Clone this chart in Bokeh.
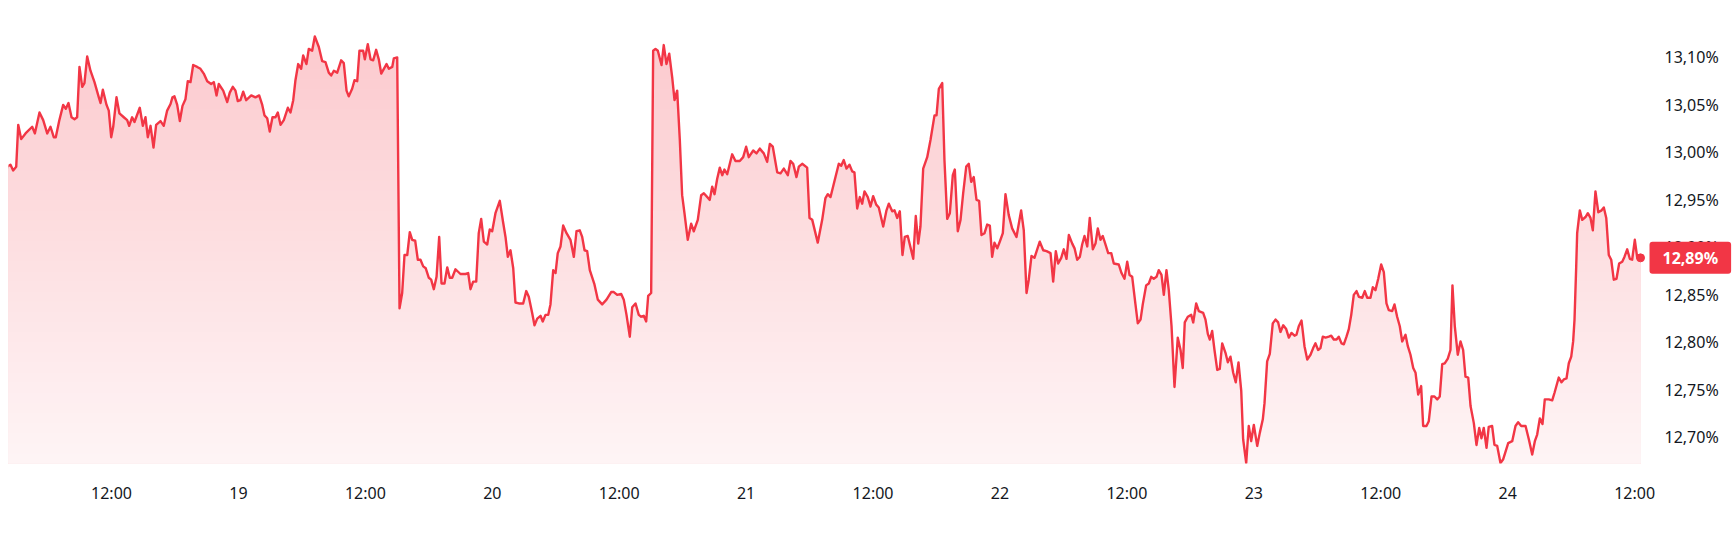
import numpy as np
from bokeh.plotting import figure
from bokeh.models import FixedTicker, CustomJSTickFormatter, Label, Range1d
from bokeh.embed import file_html
from bokeh.resources import INLINE

# time in hours since the 18th, 00:00
hours = [
    1.98, 2.14, 2.45, 2.70, 2.99, 3.18, 3.46, 3.87, 4.50, 4.75,
    5.19, 5.54, 5.92, 6.23, 6.54, 6.73, 7.05, 7.43, 7.68, 7.93,
    8.22, 8.50, 8.75, 8.97, 9.23, 9.44, 9.70, 10.01, 10.39, 10.80,
    10.96, 11.18, 11.53, 11.74, 11.97, 12.16, 12.47, 12.75, 13.16, 13.48,
    13.67, 13.95, 14.17, 14.67, 14.96, 15.21, 15.43, 15.69, 15.97, 16.22,
    16.63, 16.94, 17.26, 17.58, 17.76, 17.95, 18.21, 18.46, 18.71, 18.99,
    19.21, 19.47, 19.72, 20.10, 20.41, 20.72, 21.05, 21.42, 21.67, 21.93,
    22.14, 22.56, 22.94, 23.18, 23.47, 23.72, 23.94, 24.19, 24.45, 24.73,
    25.21, 25.61, 25.96, 26.25, 26.46, 26.72, 26.96, 27.22, 27.50, 27.72,
    27.98, 28.29, 28.67, 28.92, 29.18, 29.39, 29.65, 29.93, 30.12, 30.43,
    30.65, 30.97, 31.22, 31.60, 31.92, 32.23, 32.54, 32.77, 33.02, 33.34,
    33.71, 33.96, 34.22, 34.43, 34.75, 34.97, 35.23, 35.44, 35.79, 35.95,
    36.23, 36.49, 36.74, 37.02, 37.27, 37.50, 38.00, 38.22, 38.54, 38.69,
    39.01, 39.23, 39.48, 39.70, 39.96, 40.20, 40.43, 40.71, 40.96, 41.21,
    41.47, 41.71, 42.00, 42.22, 42.47, 42.73, 42.98, 43.20, 43.48, 43.74,
    43.98, 44.21, 44.52, 44.99, 45.47, 45.72, 45.94, 46.19, 46.48, 46.72,
    46.95, 47.20, 47.52, 47.76, 47.99, 48.30, 48.71, 49.03, 49.25, 49.47,
    49.72, 49.98, 50.19, 50.51, 50.92, 51.21, 51.45, 51.77, 51.99, 52.25,
    52.56, 52.77, 53.03, 53.29, 53.50, 53.76, 53.98, 54.19, 54.45, 54.70,
    55.02, 55.39, 55.71, 55.96, 56.27, 56.50, 56.72, 56.97, 57.22, 57.66,
    57.98, 58.39, 58.80, 59.24, 59.49, 59.81, 60.19, 60.43, 60.69, 61.00,
    61.23, 61.54, 61.85, 62.08, 62.32, 62.55, 62.74, 63.02, 63.21, 63.43,
    63.65, 64.00, 64.21, 64.47, 64.73, 65.01, 65.23, 65.48, 65.73, 65.95,
    66.17, 66.48, 66.80, 67.05, 67.43, 67.75, 68.00, 68.56, 68.79, 69.01,
    69.26, 69.51, 69.74, 69.95, 70.21, 70.68, 70.99, 71.40, 71.72, 72.00,
    72.25, 72.67, 72.98, 73.29, 73.67, 73.99, 74.24, 74.52, 74.94, 75.25,
    75.56, 75.94, 76.19, 76.45, 76.76, 76.98, 77.30, 77.77, 77.99, 78.25,
    78.77, 79.19, 79.50, 79.72, 79.98, 80.29, 80.76, 80.99, 81.23, 81.49,
    81.77, 82.03, 82.24, 82.50, 82.75, 82.97, 83.19, 83.50, 83.76, 84.01,
    84.30, 84.54, 84.96, 85.27, 85.49, 85.81, 86.03, 86.28, 86.53, 86.78,
    87.00, 87.28, 87.80, 88.04, 88.27, 88.48, 88.74, 89.12, 89.43, 89.81,
    90.00, 90.22, 90.54, 90.75, 91.01, 91.26, 91.54, 91.73, 92.01, 92.27,
    92.52, 92.81, 93.05, 93.28, 93.52, 93.78, 94.03, 94.25, 94.54, 94.79,
    95.04, 95.26, 95.48, 95.74, 95.98, 96.27, 96.52, 96.83, 97.15, 97.56,
    98.00, 98.25, 98.51, 98.72, 98.98, 99.26, 99.76, 100.09, 100.40, 100.78,
    101.03, 101.28, 101.50, 101.79, 102.03, 102.29, 102.51, 102.83, 103.05, 103.30,
    103.55, 103.77, 103.99, 104.25, 104.49, 104.78, 105.03, 105.25, 105.50, 105.72,
    105.98, 106.23, 106.52, 106.76, 107.23, 107.49, 107.77, 108.03, 108.25, 108.50,
    108.81, 109.03, 109.29, 109.50, 109.82, 110.07, 110.30, 110.54, 110.80, 111.01,
    111.27, 111.49, 111.74, 111.96, 112.22, 112.50, 112.81, 113.07, 113.28, 113.47,
    113.76, 114.08, 114.27, 114.55, 114.80, 115.21, 115.43, 115.65, 115.84, 116.06,
    116.28, 116.54, 116.78, 117.01, 117.32, 117.54, 117.79, 118.05, 118.29, 118.55,
    118.81, 118.99, 119.28, 119.52, 119.75, 120.00, 120.32, 120.57, 120.85, 121.01,
    121.26, 121.51, 121.79, 122.05, 122.30, 122.52, 122.78, 123.06, 123.31, 123.56,
    123.85, 124.03, 124.25, 124.51, 124.79, 125.05, 125.36, 125.61, 125.83, 126.08,
    126.30, 126.52, 126.78, 127.09, 127.32, 127.56, 127.82, 128.03, 128.29, 128.51,
    128.76, 128.98, 129.21, 129.45, 129.71, 129.93, 130.25, 130.49, 130.72, 131.03,
    131.25, 131.50, 131.76, 132.04, 132.29, 132.54, 132.76, 133.08, 133.30, 133.55,
    133.80, 134.03, 134.34, 134.56, 134.81, 135.07, 135.29, 135.54, 135.82, 136.01,
    136.32, 136.54, 136.80, 137.08, 137.34, 137.58, 137.81, 138.05, 138.34, 138.59,
    138.78, 139.00, 139.28, 139.54, 139.79, 140.01, 140.27, 140.49, 140.80, 141.05,
    141.31, 141.52, 141.74, 142.00, 142.21, 142.53, 142.75, 143.01, 143.32, 143.58,
    144.05, 144.43, 144.74, 144.99, 145.28, 145.69, 146.00, 146.32, 146.57, 146.79,
    147.04, 147.29, 147.51, 147.89, 148.21, 148.43, 148.83, 149.09, 149.31, 149.56,
    149.78, 150.01, 150.19, 150.32, 150.48, 150.57, 150.82, 151.05, 151.36, 151.58,
    151.83, 152.05, 152.30, 152.57, 152.88, 153.09, 153.32, 153.56, 153.79, 154.03,
    154.29, 154.54, 154.83, 155.04, 155.30, 155.55, 155.77, 156.02, 156.25, 156.56,
]

# rate in percent
rate_pct = [
    12.976, 12.985, 12.987, 12.981, 12.985, 13.029, 13.014, 13.020, 13.027, 13.020,
    13.042, 13.034, 13.020, 13.027, 13.016, 13.016, 13.033, 13.050, 13.046, 13.052,
    13.037, 13.035, 13.037, 13.090, 13.069, 13.073, 13.101, 13.086, 13.074, 13.058,
    13.052, 13.066, 13.050, 13.044, 13.016, 13.027, 13.058, 13.041, 13.037, 13.034,
    13.028, 13.037, 13.032, 13.047, 13.028, 13.037, 13.016, 13.028, 13.005, 13.029,
    13.033, 13.028, 13.044, 13.051, 13.058, 13.059, 13.050, 13.033, 13.049, 13.056,
    13.075, 13.074, 13.092, 13.090, 13.088, 13.083, 13.075, 13.072, 13.074, 13.060,
    13.072, 13.065, 13.053, 13.063, 13.069, 13.065, 13.054, 13.055, 13.064, 13.055,
    13.060, 13.058, 13.060, 13.050, 13.039, 13.036, 13.022, 13.037, 13.037, 13.042,
    13.029, 13.034, 13.047, 13.042, 13.055, 13.076, 13.093, 13.088, 13.102, 13.093,
    13.109, 13.107, 13.122, 13.111, 13.096, 13.095, 13.084, 13.081, 13.086, 13.084,
    13.097, 13.094, 13.065, 13.059, 13.067, 13.076, 13.075, 13.107, 13.107, 13.098,
    13.114, 13.098, 13.097, 13.108, 13.098, 13.083, 13.093, 13.088, 13.090, 13.099,
    13.100, 12.836, 12.852, 12.892, 12.892, 12.916, 12.908, 12.907, 12.887, 12.887,
    12.880, 12.878, 12.868, 12.866, 12.856, 12.869, 12.911, 12.862, 12.862, 12.879,
    12.868, 12.868, 12.877, 12.872, 12.872, 12.873, 12.856, 12.864, 12.864, 12.915,
    12.930, 12.906, 12.903, 12.919, 12.917, 12.936, 12.949, 12.926, 12.911, 12.890,
    12.897, 12.878, 12.842, 12.841, 12.841, 12.854, 12.848, 12.831, 12.818, 12.825,
    12.828, 12.822, 12.829, 12.829, 12.840, 12.876, 12.873, 12.894, 12.901, 12.923,
    12.915, 12.908, 12.890, 12.917, 12.918, 12.911, 12.897, 12.896, 12.876, 12.861,
    12.845, 12.840, 12.845, 12.853, 12.853, 12.850, 12.851, 12.845, 12.829, 12.806,
    12.837, 12.841, 12.829, 12.827, 12.828, 12.822, 12.849, 12.852, 13.107, 13.109,
    13.107, 13.092, 13.113, 13.093, 13.104, 13.079, 13.055, 13.065, 13.013, 12.955,
    12.936, 12.908, 12.925, 12.917, 12.929, 12.955, 12.957, 12.950, 12.964, 12.956,
    12.972, 12.984, 12.976, 12.982, 12.977, 12.998, 12.991, 12.991, 12.995, 13.006,
    12.995, 13.002, 12.999, 13.004, 12.999, 12.990, 13.009, 13.006, 12.979, 12.978,
    12.983, 12.976, 12.991, 12.988, 12.974, 12.985, 12.988, 12.984, 12.931, 12.929,
    12.905, 12.929, 12.952, 12.956, 12.953, 12.967, 12.988, 12.986, 12.992, 12.983,
    12.987, 12.980, 12.979, 12.941, 12.953, 12.946, 12.959, 12.953, 12.943, 12.954,
    12.945, 12.942, 12.922, 12.939, 12.946, 12.938, 12.939, 12.931, 12.938, 12.892,
    12.911, 12.912, 12.888, 12.933, 12.904, 12.922, 12.983, 12.995, 13.013, 13.039,
    13.039, 13.067, 13.073, 12.992, 12.930, 12.936, 12.976, 12.982, 12.917, 12.929,
    12.957, 12.985, 12.988, 12.969, 12.974, 12.950, 12.949, 12.913, 12.915, 12.924,
    12.923, 12.890, 12.905, 12.899, 12.906, 12.915, 12.956, 12.934, 12.920, 12.911,
    12.939, 12.918, 12.852, 12.866, 12.891, 12.889, 12.906, 12.897, 12.896, 12.894,
    12.864, 12.896, 12.883, 12.889, 12.898, 12.888, 12.913, 12.904, 12.899, 12.887,
    12.890, 12.903, 12.912, 12.901, 12.931, 12.898, 12.904, 12.920, 12.908, 12.912,
    12.903, 12.894, 12.894, 12.883, 12.882, 12.873, 12.867, 12.885, 12.871, 12.869,
    12.840, 12.820, 12.824, 12.840, 12.860, 12.862, 12.869, 12.867, 12.869, 12.876,
    12.871, 12.850, 12.876, 12.855, 12.817, 12.753, 12.805, 12.792, 12.773, 12.821,
    12.827, 12.829, 12.821, 12.841, 12.833, 12.831, 12.824, 12.809, 12.803, 12.812,
    12.792, 12.771, 12.772, 12.799, 12.789, 12.779, 12.785, 12.768, 12.758, 12.779,
    12.749, 12.698, 12.673, 12.712, 12.696, 12.713, 12.691, 12.705, 12.719, 12.736,
    12.780, 12.788, 12.820, 12.824, 12.821, 12.811, 12.818, 12.814, 12.805, 12.810,
    12.807, 12.808, 12.817, 12.823, 12.796, 12.782, 12.787, 12.794, 12.799, 12.792,
    12.794, 12.806, 12.805, 12.806, 12.807, 12.803, 12.803, 12.806, 12.799, 12.798,
    12.806, 12.814, 12.829, 12.850, 12.854, 12.848, 12.847, 12.854, 12.847, 12.847,
    12.858, 12.855, 12.867, 12.882, 12.874, 12.841, 12.834, 12.833, 12.840, 12.827,
    12.817, 12.801, 12.808, 12.796, 12.787, 12.773, 12.768, 12.745, 12.754, 12.712,
    12.712, 12.717, 12.743, 12.743, 12.740, 12.743, 12.777, 12.778, 12.783, 12.792,
    12.860, 12.817, 12.787, 12.801, 12.792, 12.764, 12.763, 12.733, 12.715, 12.692,
    12.710, 12.699, 12.710, 12.689, 12.711, 12.712, 12.692, 12.691, 12.673, 12.677,
    12.694, 12.696, 12.712, 12.716, 12.712, 12.712, 12.698, 12.682, 12.696, 12.703,
    12.720, 12.714, 12.740, 12.740, 12.739, 12.747, 12.763, 12.758, 12.761, 12.762,
    12.778, 12.785, 12.801, 12.824, 12.880, 12.915, 12.939, 12.929, 12.932, 12.936,
    12.931, 12.918, 12.959, 12.937, 12.939, 12.942, 12.931, 12.892, 12.887, 12.866,
    12.867, 12.883, 12.885, 12.890, 12.898, 12.888, 12.887, 12.908, 12.889, 12.889,
]

x_tick_hours = [12, 24, 36, 48, 60, 72, 84, 96, 108, 120, 132, 144, 156]
x_tick_labels = ["12:00", "19", "12:00", "20", "12:00", "21", "12:00",
                 "22", "12:00", "23", "12:00", "24", "12:00"]
y_tick_values = [12.70, 12.75, 12.80, 12.85, 12.90, 12.95, 13.00, 13.05, 13.10]
y_tick_labels = ["12,70%", "12,75%", "12,80%", "12,85%", "12,90%",
                 "12,95%", "13,00%", "13,05%", "13,10%"]

n = min(len(hours), len(rate_pct))
h = np.array(hours[:n], dtype=float)
v = np.array(rate_pct[:n], dtype=float)

X_LO, X_HI = 2.26, 157.22
Y_LO, Y_HI = 12.6725, 13.1515
RED = "#F23645"
FONT = "Noto Sans"

p = figure(width=1733, height=538,
           x_range=Range1d(X_LO, X_HI), y_range=Range1d(Y_LO, Y_HI),
           y_axis_location="right",
           output_backend="svg", toolbar_location=None,
           min_border_left=8, min_border_right=86,
           min_border_top=8, min_border_bottom=74)
p.outline_line_color = None
p.grid.visible = False
p.background_fill_color = "white"
p.border_fill_color = "white"

# gradient area fill built from stacked bands
N = 45
edges = np.linspace(Y_LO, Y_HI, N + 1)
rgb = (242, 54, 69)
a_top, a_bot = 0.28, 0.05
for k in range(N - 1, -1, -1):
    mid = 0.5 * (edges[k] + edges[k + 1])
    t = (mid - Y_LO) / (Y_HI - Y_LO)
    a = a_bot + (a_top - a_bot) * t
    col = "#%02x%02x%02x" % tuple(int(round(255 - a * (255 - c))) for c in rgb)
    p.varea(x=h, y1=Y_LO, y2=np.minimum(v, edges[k + 1]), fill_color=col, fill_alpha=1.0)

p.line(h, v, line_color=RED, line_width=2.4, line_join="round")
p.scatter([h[-1]], [v[-1]], size=8, color=RED)

xfmt = CustomJSTickFormatter(args=dict(vals=x_tick_hours, labs=x_tick_labels), code="""
let best = 0, d = 1e9;
for (let i = 0; i < vals.length; i++) { const e = Math.abs(vals[i] - tick); if (e < d) { d = e; best = i; } }
return labs[best];
""")
yfmt = CustomJSTickFormatter(args=dict(vals=y_tick_values, labs=y_tick_labels), code="""
let best = 0, d = 1e9;
for (let i = 0; i < vals.length; i++) { const e = Math.abs(vals[i] - tick); if (e < d) { d = e; best = i; } }
return labs[best];
""")

xa = p.xaxis[0]
xa.ticker = FixedTicker(ticks=x_tick_hours)
xa.formatter = xfmt
xa.major_label_standoff = 18
ya = p.yaxis[0]
ya.ticker = FixedTicker(ticks=y_tick_values)
ya.formatter = yfmt
ya.major_label_standoff = 17

for ax in (xa, ya):
    ax.axis_line_color = None
    ax.major_tick_line_color = None
    ax.minor_tick_line_color = None
    ax.major_tick_out = 0
    ax.major_tick_in = 0
    ax.minor_tick_out = 0
    ax.minor_tick_in = 0
    ax.major_label_text_font = FONT
    ax.major_label_text_font_size = "16px"
    ax.major_label_text_color = "#131722"

# last value price tag (placed in a side panel so it is not clipped to the frame)
last_text = ("%.2f" % v[-1]).replace(".", ",") + "%"
lab = Label(x=157.41, y=v[-1], x_units="data", y_units="data", text=last_text,
            text_color="white", text_font=FONT, text_font_size="16px",
            text_font_style="bold", text_align="left", text_baseline="middle",
            background_fill_color=RED, background_fill_alpha=1.0,
            border_radius=3, padding=(13, 5))
p.add_layout(lab, "below")

open("out.html", "w").write(file_html(p, INLINE))
